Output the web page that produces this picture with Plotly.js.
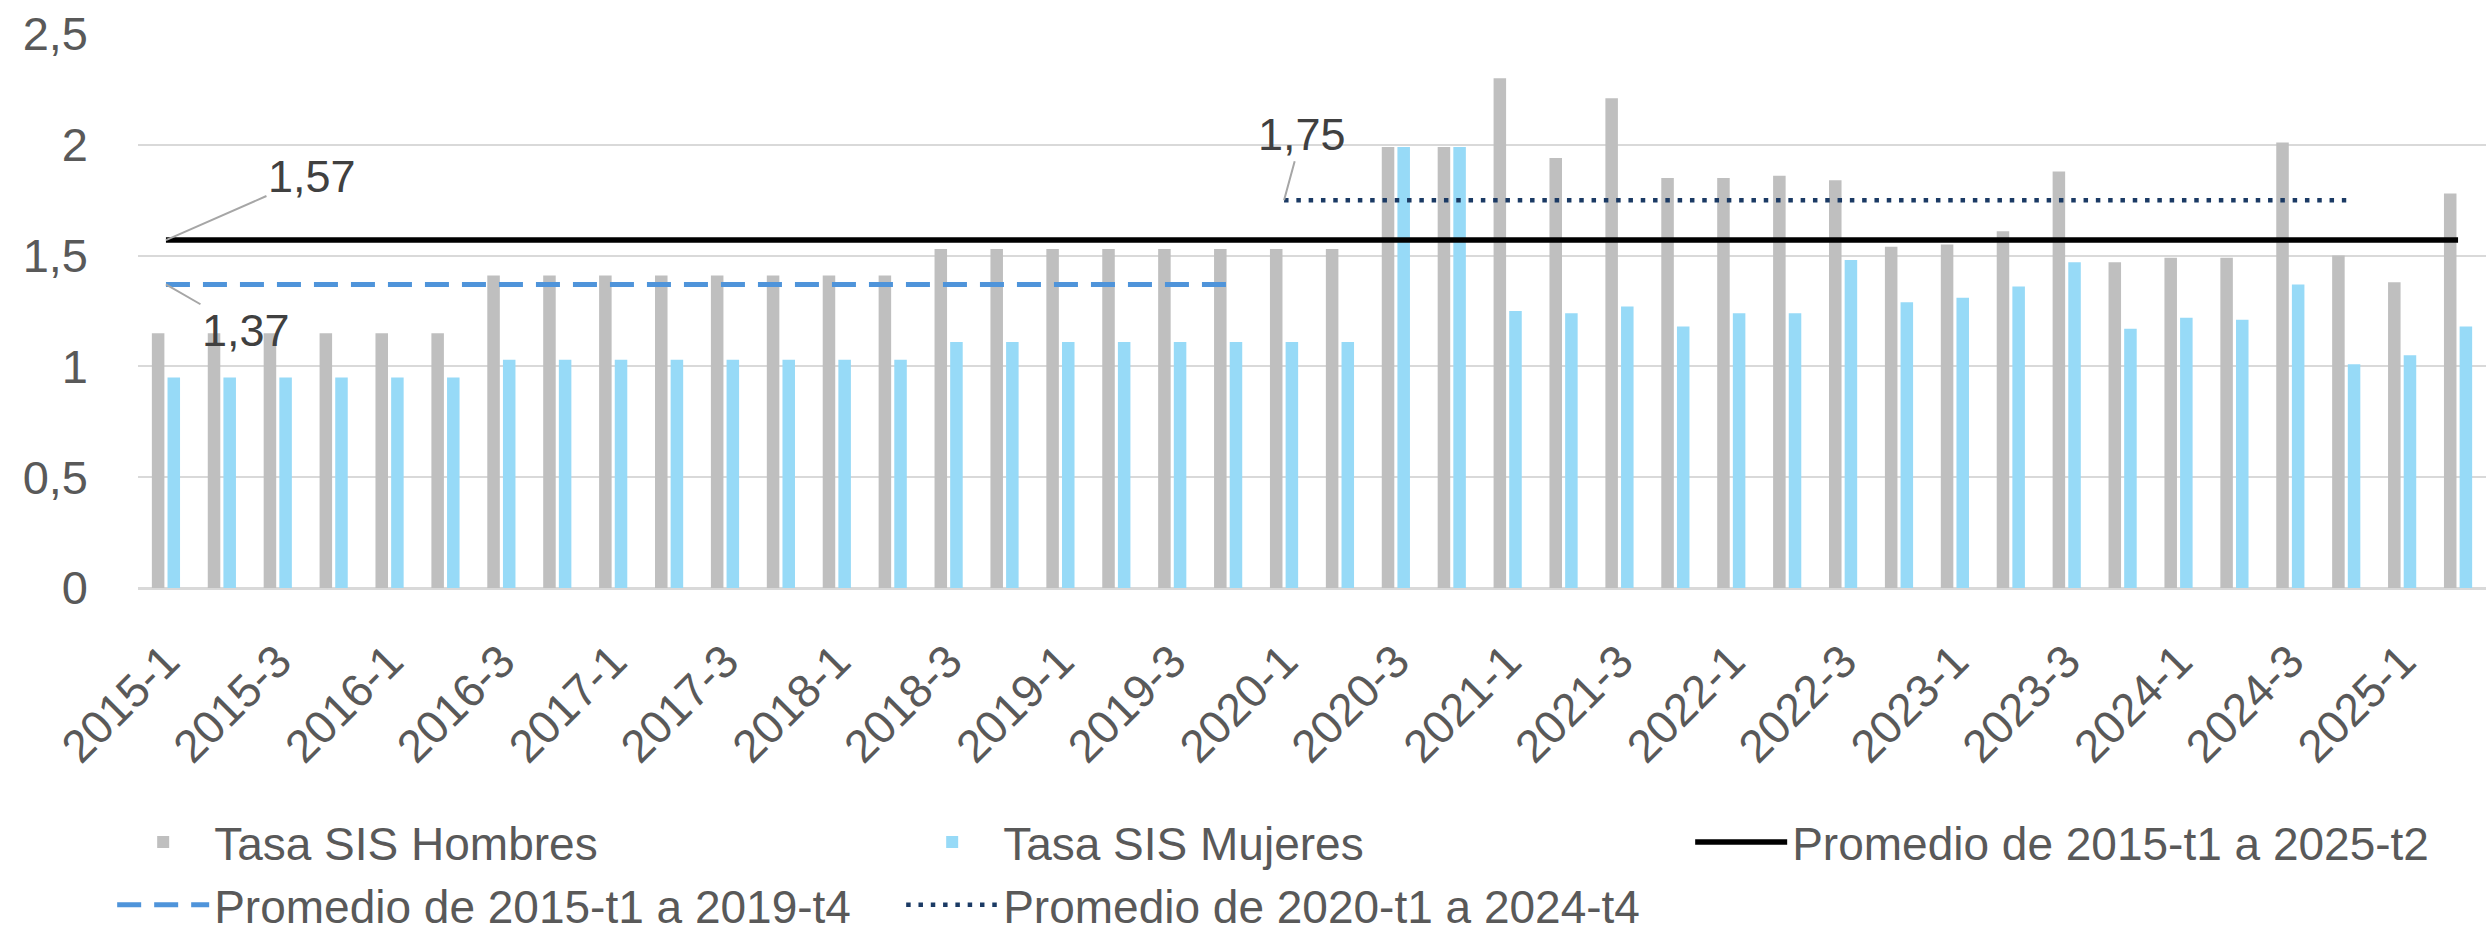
<!DOCTYPE html>
<html>
<head>
<meta charset="utf-8">
<script src="https://cdn.plot.ly/plotly-3.0.1.min.js"></script>
<style>html,body{margin:0;padding:0;background:#fff;}#chart{width:2490px;height:936px;}</style>
</head>
<body>
<div id="chart"></div>
<script>
const categories = [
  "2015-1","2015-2","2015-3","2015-4",
  "2016-1","2016-2","2016-3","2016-4",
  "2017-1","2017-2","2017-3","2017-4",
  "2018-1","2018-2","2018-3","2018-4",
  "2019-1","2019-2","2019-3","2019-4",
  "2020-1","2020-2","2020-3","2020-4",
  "2021-1","2021-2","2021-3","2021-4",
  "2022-1","2022-2","2022-3","2022-4",
  "2023-1","2023-2","2023-3","2023-4",
  "2024-1","2024-2","2024-3","2024-4",
  "2025-1","2025-2"
];
const tasaHombres = [
  1.15,1.15,1.15,1.15,
  1.15,1.15,1.41,1.41,
  1.41,1.41,1.41,1.41,
  1.41,1.41,1.53,1.53,
  1.53,1.53,1.53,1.53,
  1.53,1.53,1.99,1.99,
  2.30,1.94,2.21,1.85,
  1.85,1.86,1.84,1.54,
  1.55,1.61,1.88,1.47,
  1.49,1.49,2.01,1.50,
  1.38,1.78
];
const tasaMujeres = [
  0.95,0.95,0.95,0.95,
  0.95,0.95,1.03,1.03,
  1.03,1.03,1.03,1.03,
  1.03,1.03,1.11,1.11,
  1.11,1.11,1.11,1.11,
  1.11,1.11,1.99,1.99,
  1.25,1.24,1.27,1.18,
  1.24,1.24,1.48,1.29,
  1.31,1.36,1.47,1.17,
  1.22,1.21,1.37,1.01,
  1.05,1.18
];
const seriesNames = [
  "Tasa SIS Hombres",
  "Tasa SIS Mujeres",
  "Promedio de 2015-t1 a 2025-t2",
  "Promedio de 2015-t1 a 2019-t4",
  "Promedio de 2020-t1 a 2024-t4"
];
const promedioTotal = 1.57;      // 2015-t1 .. 2025-t2
const promedio2015_2019 = 1.37;  // 2015-t1 .. 2019-t4
const promedio2020_2024 = 1.75;  // 2020-t1 .. 2024-t4
const periodoTotal = ["2015-1","2025-2"];
const periodo2015_2019 = ["2015-1","2019-4"];
const periodo2020_2024 = ["2020-1","2024-4"];
const tickLabels = categories.filter((c,i)=>i%2===0);

function slice(range){
  const a = categories.indexOf(range[0]), b = categories.indexOf(range[1]);
  return categories.slice(a, b+1);
}
function fmt(v){ return v.toFixed(2).replace('.', ','); }

const xTotal = slice(periodoTotal);
const x1519 = slice(periodo2015_2019);
const x2024 = slice(periodo2020_2024);

const FONT = '"Liberation Sans", Arial, sans-serif';

const traces = [
  {type:'bar', name:seriesNames[0], x:categories, y:tasaHombres, marker:{color:'#BFBFBF'}},
  {type:'bar', name:seriesNames[1], x:categories, y:tasaMujeres, marker:{color:'#97DAF7'}},
  {type:'scatter', mode:'lines', name:seriesNames[2], x:xTotal, y:xTotal.map(()=>promedioTotal),
   line:{color:'#000000', width:5.5}},
  {type:'scatter', mode:'lines', name:seriesNames[3], x:x1519, y:x1519.map(()=>promedio2015_2019),
   line:{color:'#4F94DA', width:5, dash:'24px,13px'}},
  {type:'scatter', mode:'lines', name:seriesNames[4], x:x2024, y:x2024.map(()=>promedio2020_2024),
   line:{color:'#1B3A64', width:4.5, dash:'4.5px,7.8px'}}
];

const annFont = {family:FONT, size:45, color:'#404040'};
const layout = {
  width:2490, height:936,
  margin:{l:138, r:4, t:34, b:348, autoexpand:false},
  paper_bgcolor:'#ffffff', plot_bgcolor:'#ffffff',
  separators:',.',
  font:{family:FONT, size:46, color:'#595959'},
  barmode:'group', bargap:0.44, bargroupgap:0.2,
  showlegend:true,
  legend:{orientation:'h', xref:'paper', yref:'paper', x:-0.011, y:-0.3926,
          xanchor:'left', yanchor:'top',
          entrywidth:682, entrywidthmode:'pixels', traceorder:'normal',
          font:{family:FONT, size:46, color:'#595959'}, itemwidth:92, tracegroupgap:0},
  xaxis:{type:'category', categoryorder:'array', categoryarray:categories, automargin:false,
         tickmode:'array', tickvals:tickLabels, ticktext:tickLabels,
         tickangle:-45, showgrid:false, zeroline:false, showline:false, ticks:'',
         ticklabelstandoff:36,
         tickfont:{family:FONT, size:46, color:'#595959'}},
  yaxis:{range:[0,2.5], dtick:0.5, tick0:0, showgrid:true, gridcolor:'#D9D9D9', gridwidth:2,
         zeroline:true, zerolinecolor:'#D9D9D9', zerolinewidth:3, showline:false, ticks:'',
         automargin:false, ticklabelstandoff:49,
         tickfont:{family:FONT, size:47, color:'#595959'}},
  annotations:[
    {x:periodoTotal[0], y:promedioTotal, xref:'x', yref:'y', text:fmt(promedioTotal),
     showarrow:true, arrowhead:0, arrowwidth:2, arrowcolor:'#A6A6A6', ax:146, ay:-64, font:annFont},
    {x:periodo2015_2019[0], y:promedio2015_2019, xref:'x', yref:'y', text:fmt(promedio2015_2019),
     showarrow:true, arrowhead:0, arrowwidth:2, arrowcolor:'#A6A6A6', ax:80, ay:46, font:annFont},
    {x:periodo2020_2024[0], y:promedio2020_2024, xref:'x', yref:'y', text:fmt(promedio2020_2024),
     showarrow:true, arrowhead:0, arrowwidth:2, arrowcolor:'#A6A6A6', ax:18, ay:-66, font:annFont}
  ]
};

Plotly.newPlot('chart', traces, layout, {staticPlot:true, displayModeBar:false});
</script>
</body>
</html>
